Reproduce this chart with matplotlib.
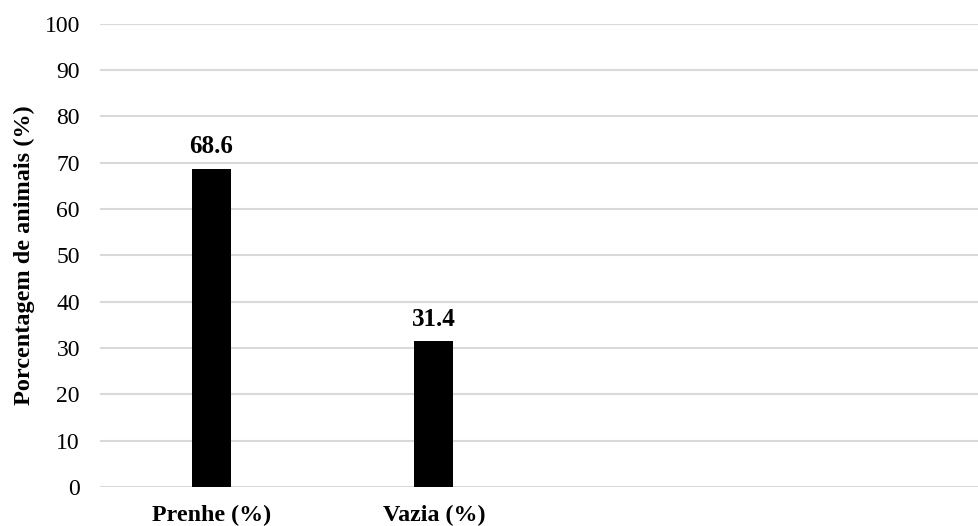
import numpy as np
import matplotlib.pyplot as plt

# categorias e valores (%)
categorias = ['Prenhe (%)', 'Vazia (%)', '', '']
valores    = [68.6, 31.4]
yticks     = list(range(0, 101, 10))

plt.rcParams['font.family'] = ['Liberation Serif', 'DejaVu Serif']

fig = plt.figure(figsize=(9.79, 5.26), dpi=100)
ax = fig.add_axes([100 / 979, 1 - 487 / 526, 879 / 979, (487 - 23.5) / 526])

x = np.arange(len(valores))
ax.bar(x, valores, width=0.175, color='black', zorder=3)

# rótulos de dados
for xi, v in zip(x, valores):
    ax.text(xi, v + 3.4, f'{v:.1f}', ha='center', va='baseline',
            fontsize=18, fontweight='bold')

ax.set_xlim(-0.5, 3.45)
ax.set_ylim(0, 100)
ax.set_yticks(yticks)
ax.set_yticklabels([str(t) for t in yticks], fontsize=17)
ax.set_xticks(np.arange(len(categorias)))
ax.set_xticklabels(categorias, fontsize=17.3, fontweight='bold')

ax.grid(axis='y', color='#d9d9d9', linewidth=1.5, zorder=0)
for s in ax.spines.values():
    s.set_visible(False)
ax.tick_params(axis='both', length=0)
ax.tick_params(axis='y', pad=14.4)
ax.tick_params(axis='x', pad=13)

ax.set_ylabel('Porcentagem de animais (%)', fontsize=17.5, fontweight='bold')
ax.yaxis.set_label_coords(-0.074, 0.5)

fig.savefig('out.png', dpi=100)
